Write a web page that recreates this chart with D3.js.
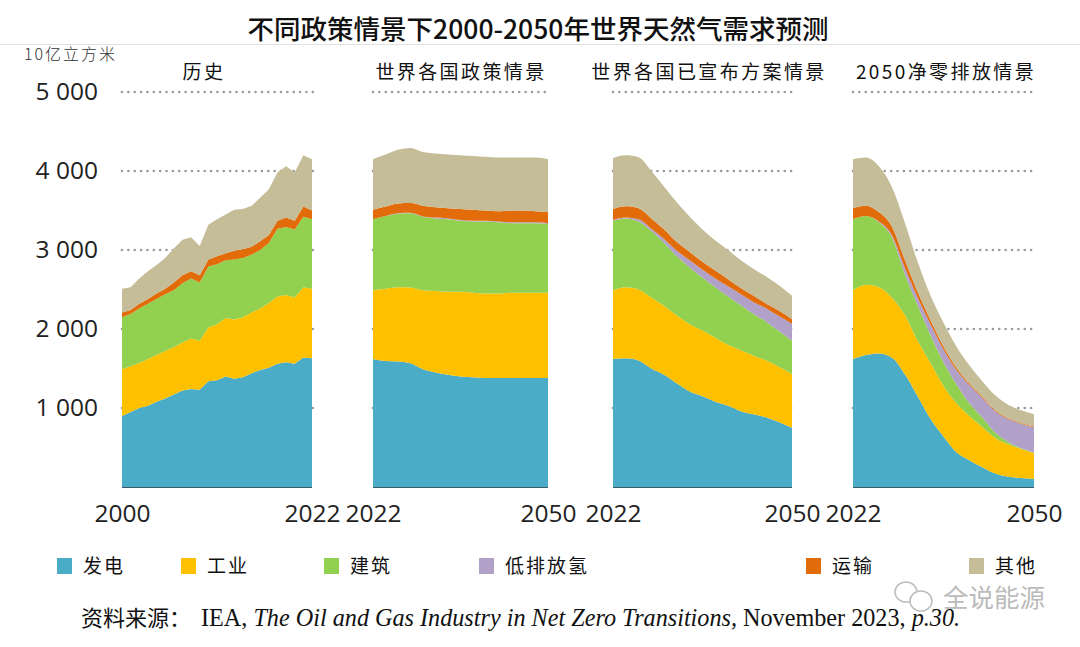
<!DOCTYPE html>
<html><head><meta charset="utf-8">
<script src="https://cdn.jsdelivr.net/npm/d3@7/dist/d3.min.js"></script>
<style>html,body{margin:0;padding:0;background:#fff}svg{display:block}</style>
</head><body><svg id="c" width="1080" height="647"></svg>
<script>
const keys=["发电","工业","建筑","低排放氢","运输","其他"];
const colors=["#4AACC6","#FFC000","#92D050","#B1A0C7","#E36C0A","#C4BD97"];

const histYears=[2000,2001,2002,2003,2004,2005,2006,2007,2008,2009,2010,2011,2012,2013,2014,2015,2016,2017,2018,2019,2020,2021,2022];
const histPower=[900,950,1000,1030,1080,1120,1170,1220,1240,1230,1340,1350,1400,1370,1390,1440,1480,1510,1560,1580,1560,1640,1630];
const histIndustry=[590,580,570,590,590,600,600,610,640,620,680,710,740,750,760,770,780,820,850,850,840,890,880];
const histBuildings=[660,660,690,700,710,720,720,750,760,740,770,760,730,760,750,730,740,760,860,860,860,890,880];
const histHydrogen=[0,0,0,0,0,0,0,0,0,0,0,0,0,0,0,0,0,0,0,0,0,0,0];
const histTransport=[60,50,60,60,70,70,100,100,90,90,90,100,90,110,110,100,110,100,100,120,110,130,110];
const histOther=[300,290,320,350,360,390,430,450,430,370,440,470,490,520,510,520,550,580,610,650,610,650,650];

const projYears=[2022,2024,2026,2028,2030,2032,2034,2036,2038,2040,2042,2044,2046,2048,2050];
const stepsPower=[1620,1595,1590,1565,1490,1450,1420,1400,1390,1380,1380,1380,1380,1380,1380];
const stepsIndustry=[870,915,940,960,1000,1030,1050,1070,1070,1070,1070,1080,1080,1080,1080];
const stepsBuildings=[900,920,930,940,930,920,920,900,900,910,900,880,880,880,870];
const stepsHydrogen=[0,0,5,5,5,10,10,10,10,10,10,10,10,10,10];
const stepsTransport=[120,120,125,125,135,130,130,140,140,130,130,150,150,140,140];
const stepsOther=[640,660,680,695,680,680,680,680,680,680,680,670,670,680,670];

const apsPower=[1620,1630,1600,1500,1420,1310,1210,1150,1080,1030,960,920,880,820,750];
const apsIndustry=[870,900,900,900,870,860,850,830,810,770,770,740,720,700,680];
const apsBuildings=[880,870,860,840,800,750,720,670,640,610,570,530,490,450,420];
const apsHydrogen=[10,10,30,30,50,70,90,100,110,130,140,150,170,190,215];
const apsTransport=[140,145,140,130,120,110,105,100,100,90,80,80,60,70,60];
const apsOther=[645,645,645,600,540,500,445,410,380,370,350,340,340,320,295];

const nzePower=[1620,1670,1690,1640,1430,1150,860,640,440,340,250,170,130,115,100];
const nzeIndustry=[870,890,840,760,750,700,710,640,620,560,510,450,410,365,330];
const nzeBuildings=[900,870,820,760,520,450,350,300,240,160,120,70,30,10,5];
const nzeHydrogen=[0,0,10,30,80,100,140,160,180,230,250,270,290,310,320];
const nzeTransport=[140,130,120,110,100,70,50,40,30,20,15,10,10,10,10];
const nzeOther=[620,610,580,500,470,380,310,300,270,230,195,190,170,160,155];

const panels=[
 {name:"历史",x0:122,x1:312,years:histYears,vals:[histPower,histIndustry,histBuildings,histHydrogen,histTransport,histOther],curve:d3.curveLinear,tx:204,l:2000,r:2022},
 {name:"世界各国政策情景",x0:373,x1:548,years:projYears,vals:[stepsPower,stepsIndustry,stepsBuildings,stepsHydrogen,stepsTransport,stepsOther],curve:d3.curveMonotoneX,tx:461,l:2022,r:2050},
 {name:"世界各国已宣布方案情景",x0:613,x1:792,years:projYears,vals:[apsPower,apsIndustry,apsBuildings,apsHydrogen,apsTransport,apsOther],curve:d3.curveMonotoneX,tx:709,l:2022,r:2050},
 {name:"2050净零排放情景",x0:853,x1:1034,years:projYears,vals:[nzePower,nzeIndustry,nzeBuildings,nzeHydrogen,nzeTransport,nzeOther],curve:d3.curveMonotoneX,tx:946,l:2022,r:2050}
];
const yTicks=[1000,2000,3000,4000,5000];
const CJK='"Noto Sans CJK SC",sans-serif';
const svg=d3.select("#c");
const y=d3.scaleLinear().domain([0,5000]).range([487,92]);

svg.append("line").attr("x1",0).attr("x2",1080).attr("y1",44.5).attr("y2",44.5).attr("stroke","#e2e2e2");
svg.append("text").attr("x",538).attr("y",39).attr("text-anchor","middle").attr("font-family",CJK).attr("font-size",26.5).attr("font-weight",500).attr("fill","#111").text("不同政策情景下2000-2050年世界天然气需求预测");
svg.append("text").attr("x",24).attr("y",60).attr("font-family",CJK).attr("font-weight",300).attr("font-size",16).attr("fill","#333").attr("letter-spacing",2).text("10亿立方米");

const yAxis=d3.axisLeft(y).tickValues(yTicks).tickSize(0).tickPadding(0).tickFormat(d=>d3.format(",")(d).replace(","," "));
const yg=svg.append("g").attr("transform","translate(98,-1)").call(yAxis);
yg.select(".domain").remove();
yg.selectAll("text").attr("font-family",'"Open Sans",sans-serif').attr("font-size",24.5).attr("fill","#222").attr("dy","0.36em");

panels.forEach(p=>{
  const g=svg.append("g");
  const x=d3.scaleLinear().domain([p.years[0],p.years[p.years.length-1]]).range([p.x0,p.x1]);
  yTicks.forEach(t=>{
    g.append("line").attr("x1",p.x0).attr("x2",p.x1+1).attr("y1",y(t)).attr("y2",y(t))
     .attr("stroke","#9a9a9a").attr("stroke-width",2.6).attr("stroke-linecap","round").attr("stroke-dasharray","0.01 6.35");
  });
  const rows=p.years.map((yr,i)=>{const r={year:yr};keys.forEach((k,j)=>r[k]=p.vals[j][i]);return r;});
  const layers=d3.stack().keys(keys)(rows);
  const area=d3.area().x(d=>x(d.data.year)).y0(d=>y(d[0])).y1(d=>y(d[1])).curve(p.curve);
  g.selectAll("path.l").data(layers).join("path").attr("class","l").attr("d",area).attr("fill",(d,i)=>colors[i]);
  g.append("line").attr("x1",p.x0).attr("x2",p.x1).attr("y1",487.5).attr("y2",487.5).attr("stroke","#3f5a66").attr("stroke-width",1);
  const xAxis=d3.axisBottom(x).tickValues([p.l,p.r]).tickSize(0).tickPadding(0).tickFormat(d3.format("d"));
  const xg=svg.append("g").attr("transform","translate(0,505)").call(xAxis);
  xg.select(".domain").remove();
  xg.selectAll("text").attr("font-family",'"Open Sans",sans-serif').attr("font-size",24.5).attr("fill","#222").attr("dy","0.71em");
  svg.append("text").attr("x",p.tx).attr("y",79).attr("text-anchor","middle").attr("font-family",CJK).attr("font-weight",400).attr("font-size",19).attr("letter-spacing",2.4).attr("fill","#111").text(p.name);
});

const legendX=[57,181,324,479,806,969];
keys.forEach((k,i)=>{
  svg.append("rect").attr("x",legendX[i]).attr("y",558).attr("width",15).attr("height",16).attr("fill",colors[i]);
  svg.append("text").attr("x",legendX[i]+26).attr("y",573).attr("font-family",CJK).attr("font-weight",400).attr("font-size",19).attr("letter-spacing",2).attr("fill","#111").text(k);
});

const src=svg.append("text").attr("x",81).attr("y",626).attr("font-family",'"Liberation Serif",serif').attr("font-size",24.2).attr("fill","#111");
src.append("tspan").attr("font-family",CJK).attr("font-weight",400).attr("font-size",22).text("资料来源：");
src.append("tspan").attr("dx",10).text("IEA, ");
src.append("tspan").attr("font-style","italic").text("The Oil and Gas Industry in Net Zero Transitions,");
src.append("tspan").text(" November 2023, ");
src.append("tspan").attr("font-style","italic").text("p.30.");

const wm=svg.append("g").attr("fill","none").attr("stroke","#bdbdbd").attr("stroke-width",1.5);
wm.append("ellipse").attr("cx",906).attr("cy",592).attr("rx",11).attr("ry",10);
wm.append("ellipse").attr("cx",921).attr("cy",601).attr("rx",11).attr("ry",10).attr("fill","#fff");
svg.append("text").attr("x",943).attr("y",607).attr("font-family",CJK).attr("font-size",25.5).attr("fill","#bbbbbb").text("全说能源");
</script></body></html>
